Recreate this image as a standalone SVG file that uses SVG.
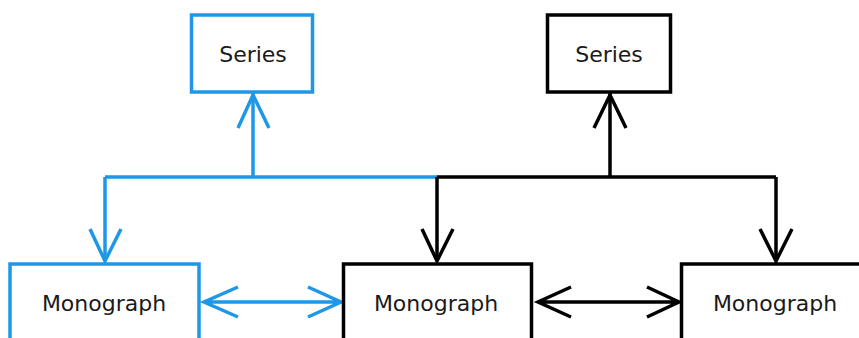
<svg xmlns="http://www.w3.org/2000/svg" width="859" height="338" viewBox="0 0 859 338">
<style>
.box{fill:#fff;stroke-width:3.5}
.b{stroke:#1e98e6}
.k{stroke:#000}
.ln{fill:none;stroke-width:3.5;stroke-linejoin:miter}
.t{font-family:"DejaVu Sans",Verdana,sans-serif;font-size:22px;fill:#1a1a1a;text-anchor:middle}
</style>
<rect width="859" height="338" fill="#fff"/>
<g id="connectors">
<path class="ln b" d="M253 93 V177 M105 177 H437 M105 177 V261"/>
<path class="ln b" d="M238 128 L253 95 L269 128 M90 229 L105 261 L121 229"/>
<path class="ln b" d="M204 302 H341 M238 287 L204 302 L238 317 M308 287 L341 302 L308 317"/>
<path class="ln k" d="M610 93 V177 M437 177 H776 M437 177 V261 M776 177 V261"/>
<path class="ln k" d="M594 128 L610 95 L626 128 M422 229 L437 261 L453 229 M760 229 L776 261 L792 229"/>
<path class="ln k" d="M538 302 H679 M571 287 L538 302 L571 317 M647 287 L679 302 L647 317"/>
</g>
<g id="series1"><rect class="box b" x="191.5" y="15" width="121" height="77"/><text class="t" x="253" y="62">Series</text></g>
<g id="series2"><rect class="box k" x="547.5" y="15" width="123" height="77"/><text class="t" x="609" y="62">Series</text></g>
<g id="mono1"><rect class="box b" x="10" y="264" width="189" height="80"/><text class="t" x="104" y="311">Monograph</text></g>
<g id="mono2"><rect class="box k" x="343.5" y="264" width="188" height="80"/><text class="t" x="436" y="311">Monograph</text></g>
<g id="mono3"><rect class="box k" x="681.5" y="264" width="190" height="80"/><text class="t" x="775" y="311">Monograph</text></g>
</svg>
